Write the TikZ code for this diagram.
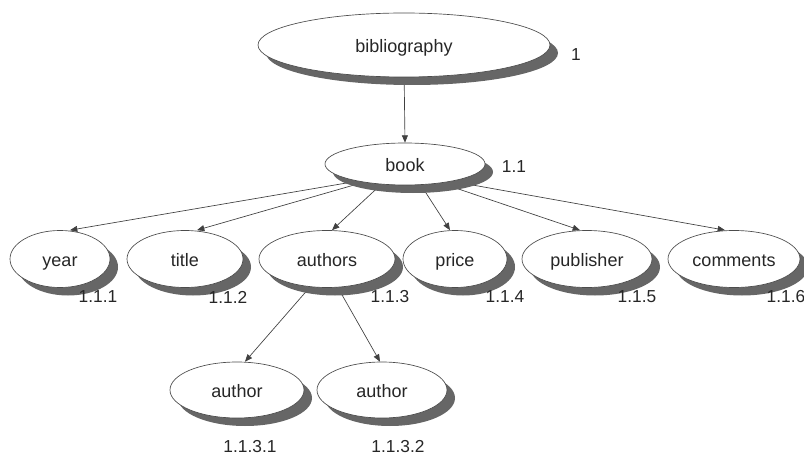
\documentclass[tikz,border=0pt]{standalone}
\usepackage{fontspec}
\setmainfont{Liberation Sans}
\usetikzlibrary{shapes.geometric,shadows,arrows.meta,calc,backgrounds}

\begin{document}
\begin{tikzpicture}[x=0.75pt,y=-0.75pt,
  el/.style 2 args={ellipse, draw=black!70, line width=0.5pt, fill=white,
    minimum width=#1*0.75pt, minimum height=#2*0.75pt, inner sep=0pt,
    text height=12pt, text depth=0.5pt,
    font=\fontsize{13.5}{16}\selectfont, text=black!85,
    drop shadow={shadow xshift=6pt, shadow yshift=-6pt, fill=black!60, opacity=1}},
  num/.style={font=\fontsize{13}{15}\selectfont, text=black!85, inner sep=0pt},
  arr/.style={draw=black!75, line width=0.5pt, -{Triangle[length=5.5pt,width=4.5pt]}}]

\useasboundingbox (0,0) rectangle (804,460);

% tree nodes
\node[el={292}{64}] (bib) at (404,45) {bibliography};
\node[el={160}{42}] (book) at (405,164) {book};
\node[el={100}{57}] (year) at (60,259) {year};
\node[el={116}{57}] (title) at (185,259) {title};
\node[el={136}{57}] (authors) at (327,259) {authors};
\node[el={104}{57}] (price) at (455,259) {price};
\node[el={130}{57}] (publisher) at (587,259) {publisher};
\node[el={132}{57}] (comments) at (734,259) {comments};
\node[el={134}{56}] (author1) at (237,390) {author};
\node[el={130}{56}] (author2) at (382,390) {author};

% position numbers
\node[num] (n1) at (576,55) {1};
\node[num] (n11) at (514,167) {1.1};
\node[num] (n111) at (98,297) {1.1.1};
\node[num] (n112) at (228,297) {1.1.2};
\node[num] (n113) at (390,297) {1.1.3};
\node[num] (n114) at (505,297) {1.1.4};
\node[num] (n115) at (637,297) {1.1.5};
\node[num] (n116) at (786,297) {1.1.6};
\node[num] (n1131) at (250,447) {1.1.3.1};
\node[num] (n1132) at (398,447) {1.1.3.2};

% connectors, kept behind the ellipses
\begin{scope}[on background layer]
  \draw[arr] ($(bib.center)+(0,20)$) -- (book.north);
  \draw[arr] ($(book.center)+(-35,15)$) -- ($(year.north)+(10,0)$);
  \draw[arr] ($(book.center)+(-30,15)$) -- ($(title.north)+(12,0)$);
  \draw[arr] ($(book.center)+(-18,15)$) -- ($(authors.north)+(5,0)$);
  \draw[arr] ($(book.center)+(12,15)$) -- ($(price.north)+(-5,0)$);
  \draw[arr] ($(book.center)+(24,15)$) -- ($(publisher.north)+(-7,0)$);
  \draw[arr] ($(book.center)+(34,15)$) -- ($(comments.north)+(-9,0)$);
  \draw[arr] ($(authors.center)+(-10,20)$) -- ($(author1.north)+(8,0)$);
  \draw[arr] ($(authors.center)+(6,20)$) -- ($(author2.north)+(-2,0)$);
\end{scope}
\end{tikzpicture}
\end{document}
